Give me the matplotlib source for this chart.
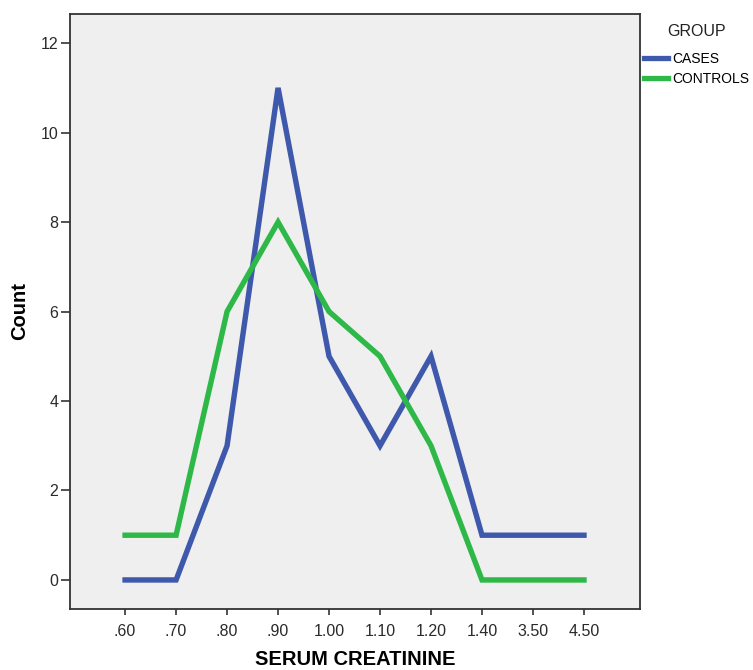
import matplotlib
matplotlib.use("Agg")
import matplotlib.pyplot as plt
import numpy as np

plt.rcParams["font.family"] = ["Liberation Sans", "DejaVu Sans"]

categories = [".60", ".70", ".80", ".90", "1.00", "1.10", "1.20", "1.40", "3.50", "4.50"]
cases = [0, 0, 3, 11, 5, 3, 5, 1, 1, 1]
controls = [1, 1, 6, 8, 6, 5, 3, 0, 0, 0]
y_ticks = [0, 2, 4, 6, 8, 10, 12]

fig = plt.figure(figsize=(7.53, 6.7), dpi=100)
ax = fig.add_axes([0.093, 0.091, 0.757, 0.888])
ax.set_facecolor("#efefef")

x = np.arange(len(categories))
ax.plot(x, cases, color="#3e58ac", lw=3.9, label="CASES", solid_joinstyle="miter")
ax.plot(x, controls, color="#2eb848", lw=3.9, label="CONTROLS", solid_joinstyle="miter")

ax.set_xlim(-1.08, 10.1)
ax.set_ylim(-0.65, 12.65)
ax.set_xticks(x)
ax.set_xticklabels(categories)
ax.set_yticks(y_ticks)
ax.tick_params(direction="out", width=1.2, color="#333333",
               labelsize=11.5, labelcolor="#2a2a2a")
ax.tick_params(axis="x", length=4.5, pad=6.5)
ax.tick_params(axis="y", length=6.5, pad=2)
for s in ax.spines.values():
    s.set_color("#333333")
    s.set_linewidth(1.3)

ax.set_xlabel("SERUM CREATININE", fontsize=14.5, fontweight="bold", labelpad=8)
ax.set_ylabel("Count", fontsize=14.5, fontweight="bold", labelpad=8)

# legend title placed separately, centred over the entries
fig.text(697 / 753, 1 - 32 / 670, "GROUP", ha="center", va="center",
         fontsize=11.5, color="#222222")
leg = fig.legend(loc="upper left", bbox_to_anchor=(0.855, 0.922), frameon=False,
                 fontsize=10, handlelength=1.75, handletextpad=0.3,
                 labelspacing=0.4, borderpad=0, borderaxespad=0)
for line in leg.get_lines():
    line.set_linewidth(3.8)

fig.savefig("out.png", dpi=100)
